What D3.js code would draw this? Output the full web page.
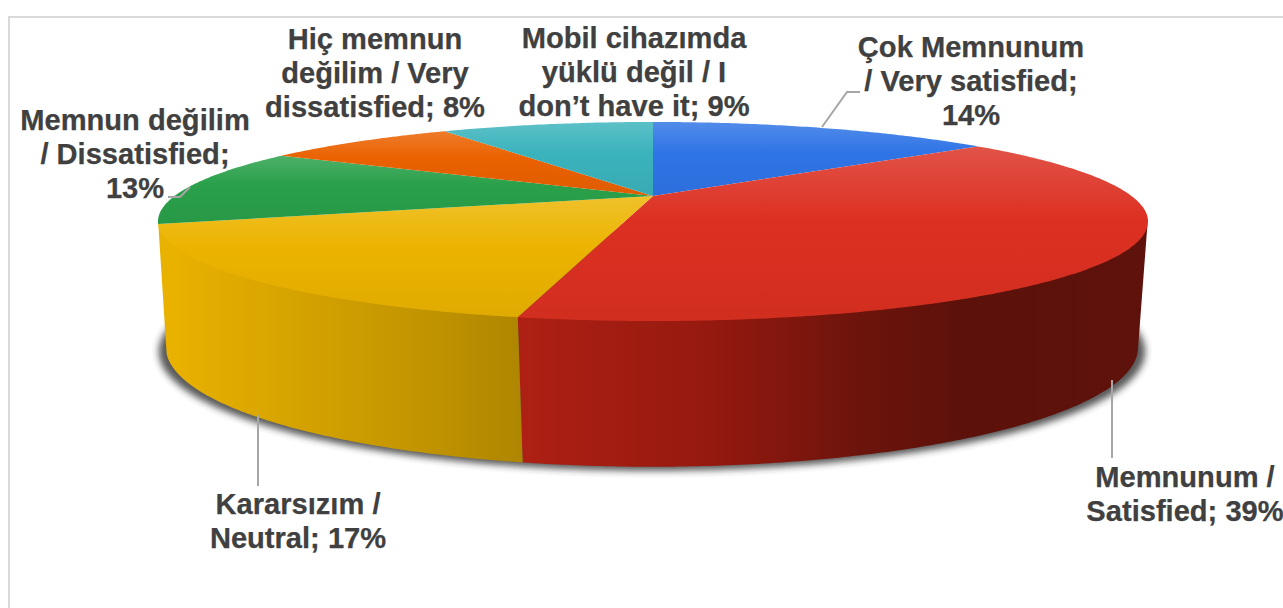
<!DOCTYPE html>
<html><head><meta charset="utf-8">
<script src="https://cdn.jsdelivr.net/npm/d3@7"></script>
<style>html,body{margin:0;padding:0;background:#fff;overflow:hidden}</style>
</head><body>
<svg id="c" width="1283" height="608"></svg>
<script>
const categories = ["Çok Memnunum / Very satisfied","Memnunum / Satisfied","Kararsızım / Neutral","Memnun değilim / Dissatisfied","Hiç memnun değilim / Very dissatisfied","Mobil cihazımda yüklü değil / I don’t have it"];
const shares = [14.4, 39, 17.1, 12.6, 8, 8.9];
const colors = ["#2F74E6","#DC3022","#ECB400","#2AA04A","#EA6100","#3BB3BC"];
const labelLines = [
  ["Çok Memnunum","/ Very satisfied;"],
  ["Memnunum /","Satisfied;"],
  ["Kararsızım /","Neutral;"],
  ["Memnun değilim","/ Dissatisfied;",""],
  ["Hiç memnun","değilim / Very","dissatisfied;"],
  ["Mobil cihazımda","yüklü değil / I","don’t have it;"]
];
const labelAnchors = [[971,57],[1185,487],[298,514],[135,130],[375,49],[634,48]];
const leaders = [
  [[822,127],[847,92],[860,92]],
  [[1112,380],[1112,458]],
  [[258,415],[258,486]],
  [[190,187],[180,197],[168,197]],
  [],[]
];

const svg = d3.select("#c");
const defs = svg.append("defs");
const W = 1283, H = 608;

// frame
svg.append("path").attr("d", `M9,${H} V17 H${W}`).attr("fill","none").attr("stroke","#D9D9D9").attr("stroke-width",2);

// perspective discs
const topDisc = {cx:653, cy:196, R:478.5, S:93, k:0.256};
const botDisc = {cx:652, cy:320, R:473, S:113, k:0.23};
const project = (disc,a,grow=0) => {
  const u = Math.sin(a), v = -Math.cos(a), w = 1 - disc.k*v;
  return [disc.cx + (disc.R+grow)*u/w, disc.cy + disc.S*v/w];
};
const line = d3.line();
const arcs = d3.pie().sort(null).value(d=>d)(shares).map((d,i)=>({...d,i}));
const rad = d3.scaleLinear().domain([0,360]).range([0,2*Math.PI]);
const samples = (a0,a1) => { const n=Math.max(2,Math.ceil((a1-a0)/0.01)); return d3.range(n+1).map(j=>a0+(a1-a0)*j/n); };

// shadow
defs.append("filter").attr("id","blur").attr("x","-5%").attr("y","-20%").attr("width","110%").attr("height","140%")
  .append("feGaussianBlur").attr("stdDeviation",3.5);
svg.append("path")
  .attr("d", line(samples(0,2*Math.PI).map(a=>{const p=project(botDisc,a,7);return [p[0],p[1]+4];}))+"Z")
  .attr("fill","#2a2a2a").attr("filter","url(#blur)").attr("opacity",0.78);

// side wall gradients
const sideStops = {
  1:{x1:520,x2:1140,stops:[[0,"#AE2014"],[0.3,"#96190F"],[0.55,"#6C140C"],[0.72,"#5C110B"],[1,"#5E120B"]]},
  2:{x1:165,x2:520,stops:[[0,"#EAB200"],[0.3,"#D9A600"],[0.7,"#C39500"],[1,"#AF8600"]]}
};
Object.entries(sideStops).forEach(([i,g])=>{
  const lg = defs.append("linearGradient").attr("id","side"+i).attr("gradientUnits","userSpaceOnUse")
    .attr("x1",g.x1).attr("x2",g.x2).attr("y1",0).attr("y2",0);
  g.stops.forEach(s=>lg.append("stop").attr("offset",s[0]).attr("stop-color",s[1]));
});
const sideLo = rad(104), sideHi = rad(256);
svg.append("g").selectAll("path").data(arcs.filter(d=>sideStops[d.i])).join("path")
  .attr("d", d=>{
    const a0=Math.max(d.startAngle,sideLo), a1=Math.min(d.endAngle,sideHi);
    const s=samples(a0,a1);
    return line(s.map(a=>{const p=project(topDisc,a);return [p[0],p[1]-2];}).concat(s.slice().reverse().map(a=>project(botDisc,a))))+"Z";
  })
  .attr("fill",d=>`url(#side${d.i})`);

// top face gradients, per slice
arcs.forEach(d=>{
  const c = colors[d.i];
  const lg = defs.append("linearGradient").attr("id","face"+d.i).attr("x1",0).attr("x2",0).attr("y1",0).attr("y2",1);
  lg.append("stop").attr("offset",0).attr("stop-color",d3.interpolateRgb(c,"#ffffff")(0.17));
  lg.append("stop").attr("offset",0.42).attr("stop-color",c);
  lg.append("stop").attr("offset",1).attr("stop-color",d3.interpolateRgb(c,"#000000")(0.05));
});
svg.append("g").selectAll("path").data(arcs).join("path")
  .attr("d", d=>line([[topDisc.cx,topDisc.cy]].concat(samples(d.startAngle,d.endAngle).map(a=>project(topDisc,a))))+"Z")
  .attr("fill",d=>`url(#face${d.i})`);

// leaders
svg.append("g").selectAll("path").data(leaders.filter(l=>l.length)).join("path")
  .attr("d",line).attr("fill","none").attr("stroke","#A6A6A6").attr("stroke-width",2);

// labels
const fmt = d=>Math.round(d)+"%";
const lineH = 34;
const lab = svg.append("g").attr("font-family","'Liberation Sans',Arial,sans-serif").attr("font-weight",700)
  .attr("font-size",29.1).attr("fill","#404040").attr("stroke","#404040").attr("stroke-width",0.25).attr("text-anchor","middle");
arcs.forEach(d=>{
  const ls = labelLines[d.i].slice();
  const pct = fmt(d.value);
  const last = ls.length-1;
  const wrapped = (d.i===0) ? [...ls,pct] : (ls[last]==="" ? [...ls.slice(0,last),pct] : [...ls.slice(0,last),ls[last]+" "+pct]);
  const t = lab.append("text").attr("x",labelAnchors[d.i][0]).attr("y",labelAnchors[d.i][1]);
  wrapped.forEach((s,j)=>t.append("tspan").attr("x",labelAnchors[d.i][0]).attr("dy",j?lineH:0).text(s));
});
</script>
</body></html>
